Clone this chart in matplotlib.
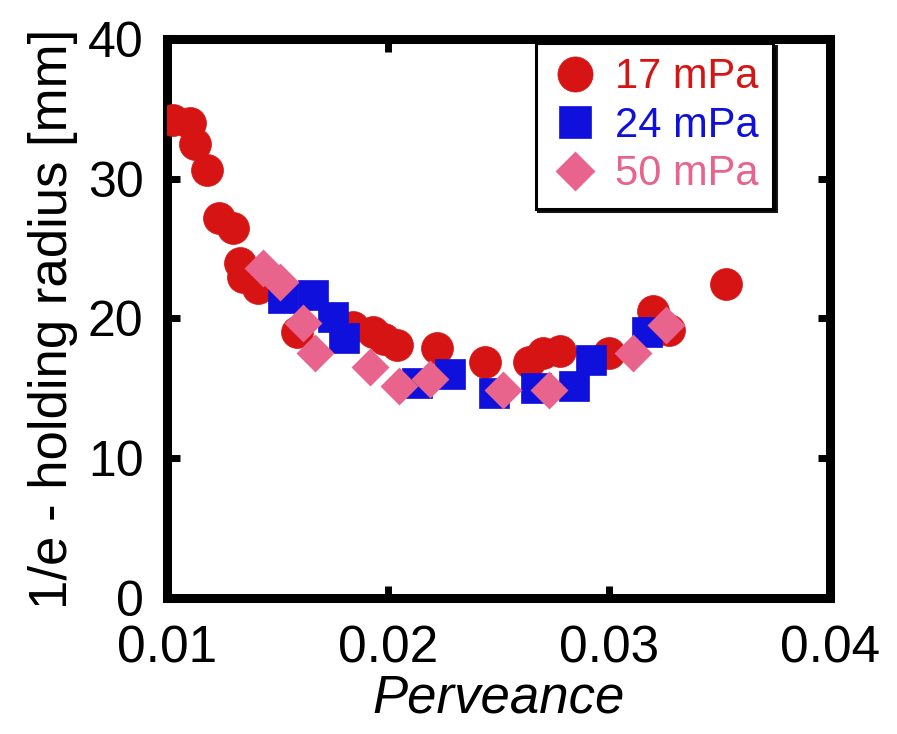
import matplotlib
matplotlib.use("Agg")
import matplotlib.pyplot as plt

# 17 mPa (red circles)
x17 = [0.01027, 0.01104, 0.01127, 0.0118, 0.01235, 0.0130, 0.0133, 0.01344,
       0.0141, 0.0159, 0.0184, 0.0193, 0.0198, 0.0204, 0.0222, 0.0244,
       0.0264, 0.0270, 0.0278, 0.0300, 0.0320, 0.0327, 0.0353]
y17 = [34.2, 34.0, 32.5, 30.6, 27.2, 26.5, 24.0, 23.0,
       22.2, 19.0, 19.4, 19.0, 18.5, 18.1, 17.9, 16.9,
       16.9, 17.5, 17.7, 17.5, 20.5, 19.2, 22.5]

# 24 mPa (blue squares)
x24 = [0.01525, 0.0166, 0.01751, 0.0180, 0.0213, 0.0228, 0.0248, 0.0267,
       0.0284, 0.0292, 0.0317]
y24 = [21.5, 21.7, 20.1, 18.6, 15.4, 16.0, 14.7, 15.0, 15.2, 17.0, 19.0]

# 50 mPa (pink diamonds)
x50 = [0.01434, 0.0151, 0.01615, 0.0167, 0.0192, 0.0205, 0.0219, 0.0252,
       0.0273, 0.0311, 0.0326]
y50 = [23.6, 22.6, 19.7, 17.5, 16.5, 15.2, 15.7, 14.9, 14.9, 17.5, 19.5]

labels = ["17 mPa", "24 mPa", "50 mPa"]
colors = ["#d71414", "#1010dc", "#e8648c"]

plt.rcParams['font.family'] = ['Liberation Sans', 'DejaVu Sans']

fig = plt.figure(figsize=(8.97, 7.34), dpi=100)
ax = fig.add_axes([0.1862, 0.1853, 0.7391, 0.7616])

ax.plot(x17, y17, 'o', ms=23, color=colors[0], mec=colors[0], mew=0.5,
        label=labels[0], zorder=3)
ax.plot(x24, y24, 's', ms=21, color=colors[1], mec=colors[1], mew=0.5,
        label=labels[1], zorder=4)
ax.plot(x50, y50, 'D', ms=17, color=colors[2], mec=colors[2], mew=2,
        label=labels[2], zorder=5)

ax.set_xlim(0.01, 0.04)
ax.set_ylim(0, 40)
ax.set_xticks([0.01, 0.02, 0.03, 0.04])
ax.set_xticklabels(["0.01", "0.02", "0.03", "0.04"])
ax.set_yticks([0, 10, 20, 30, 40])

for sp in ax.spines.values():
    sp.set_linewidth(6.5)
ax.tick_params(direction='in', length=9, width=5, labelsize=37,
               top=True, right=True)
ax.tick_params(axis='x', pad=19)
ax.tick_params(axis='y', pad=17, labelsize=36)

ax.set_xlabel("Perveance", fontsize=38, style='italic', labelpad=0)
ax.set_ylabel("1/e - holding radius [mm]", fontsize=38, labelpad=7)

leg = ax.legend(loc='upper right', bbox_to_anchor=(0.914, 0.993),
                borderaxespad=0, fontsize=30, frameon=True, fancybox=False,
                shadow={'color': 'black', 'alpha': 0.9}, handletextpad=0.35,
                labelspacing=0.2, borderpad=0.35, handlelength=1.2,
                markerscale=1.1)
leg.get_frame().set_edgecolor('black')
leg.get_frame().set_linewidth(2.2)
for txt, c in zip(leg.get_texts(), colors):
    txt.set_color(c)

fig.savefig("out.png", dpi=100)
